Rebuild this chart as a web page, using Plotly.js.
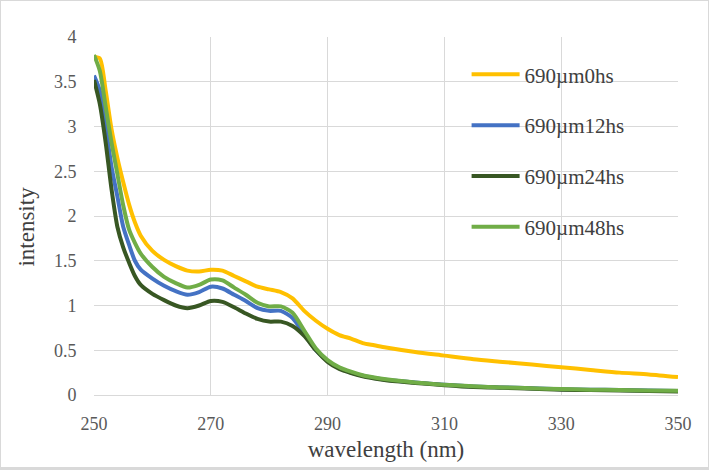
<!DOCTYPE html>
<html>
<head>
<meta charset="utf-8">
<script src="https://cdn.plot.ly/plotly-3.0.1.min.js"></script>
<style>
  html, body { margin: 0; padding: 0; background: #fff; }
  #chart { width: 707px; height: 466px; border: 1px solid #d9d9d9; border-bottom-width: 3px; }
</style>
</head>
<body>
<div id="chart"></div>
<script>
// wavelength samples (nm)
const wavelength = [250, 251, 252, 253, 254, 255, 256, 257, 258, 260, 262, 264, 266, 268, 270, 272, 274, 276, 278, 280,
    282, 284, 286, 288, 290, 292, 294, 296, 298, 300, 305, 310, 315, 320, 325, 330, 335, 340, 345, 350];

const int0hs = [3.78, 3.76, 3.40, 2.97, 2.65, 2.38, 2.13, 1.93, 1.78, 1.61, 1.51, 1.44, 1.39, 1.38, 1.40, 1.39, 1.33, 1.27, 1.21, 1.18,
    1.15, 1.08, 0.94, 0.83, 0.74, 0.67, 0.63, 0.58, 0.555, 0.53, 0.48, 0.44, 0.40, 0.37, 0.34, 0.31, 0.28, 0.25, 0.23, 0.20];
const int12hs = [3.57, 3.40, 3.00, 2.55, 2.22, 1.88, 1.68, 1.50, 1.40, 1.30, 1.22, 1.16, 1.12, 1.15, 1.21, 1.19, 1.12, 1.05, 0.97, 0.94,
    0.94, 0.86, 0.68, 0.50, 0.38, 0.30, 0.25, 0.215, 0.19, 0.17, 0.14, 0.115, 0.095, 0.085, 0.075, 0.065, 0.06, 0.055, 0.05, 0.045];
const int24hs = [3.52, 3.25, 2.82, 2.30, 1.88, 1.65, 1.48, 1.33, 1.23, 1.13, 1.06, 1.00, 0.97, 1.00, 1.05, 1.04, 0.98, 0.91, 0.85, 0.82,
    0.82, 0.77, 0.66, 0.50, 0.37, 0.29, 0.245, 0.21, 0.185, 0.165, 0.135, 0.11, 0.09, 0.08, 0.07, 0.06, 0.055, 0.05, 0.045, 0.04];
const int48hs = [3.80, 3.62, 3.22, 2.82, 2.47, 2.12, 1.85, 1.70, 1.58, 1.43, 1.32, 1.25, 1.20, 1.23, 1.29, 1.28, 1.20, 1.12, 1.03, 0.99,
    0.99, 0.92, 0.72, 0.52, 0.39, 0.31, 0.26, 0.22, 0.195, 0.175, 0.14, 0.115, 0.097, 0.085, 0.075, 0.067, 0.06, 0.055, 0.05, 0.047];

const seriesNames = ['690µm0hs', '690µm12hs', '690µm24hs', '690µm48hs'];
const seriesColors = ['#FFC000', '#4472C4', '#385723', '#70AD47'];
const seriesValues = [int0hs, int12hs, int24hs, int48hs];

const serif = 'Liberation Serif';

const traces = seriesValues.map((vals, i) => ({
    x: wavelength, y: vals, type: 'scatter', mode: 'lines', name: seriesNames[i],
    legendgroup: 'g' + i,
    line: { color: seriesColors[i], width: 4, shape: 'spline', smoothing: 0.7 }
}));

Plotly.newPlot('chart', traces, {
    width: 707, height: 466,
    margin: { l: 93, r: 30, t: 36, b: 72 },
    paper_bgcolor: '#fff', plot_bgcolor: '#fff',
    font: { family: serif, color: '#595959', size: 18 },
    xaxis: {
        range: [250, 350], dtick: 20, tick0: 250,
        showgrid: true, gridcolor: '#d9d9d9', gridwidth: 1,
        showline: true, linecolor: '#d9d9d9', zeroline: false,
        ticks: 'outside', ticklen: 12, tickcolor: 'rgba(0,0,0,0)',
        tickfont: { family: serif, size: 18, color: '#595959' },
        title: { text: 'wavelength (nm)', standoff: 8, font: { family: serif, size: 23, color: '#404040' } }
    },
    yaxis: {
        range: [0, 4], dtick: 0.5,
        showgrid: true, gridcolor: '#d9d9d9', gridwidth: 1,
        showline: false, zeroline: false,
        ticks: 'outside', ticklen: 13, tickcolor: 'rgba(0,0,0,0)',
        tickfont: { family: serif, size: 18, color: '#595959' }
    },
    annotations: [{
        text: 'intensity', xref: 'paper', yref: 'paper', x: -0.115, y: 0.47,
        xanchor: 'center', yanchor: 'middle', textangle: -90, showarrow: false,
        font: { family: serif, size: 23, color: '#404040' }
    }],
    showlegend: true,
    legend: {
        x: 0.638, y: 0.952, xanchor: 'left', yanchor: 'top',
        bgcolor: 'rgba(255,255,255,0)', traceorder: 'grouped', tracegroupgap: 20.5,
        itemwidth: 48,
        font: { family: serif, size: 21, color: '#404040' }
    }
}, { displayModeBar: false });
</script>
</body>
</html>
